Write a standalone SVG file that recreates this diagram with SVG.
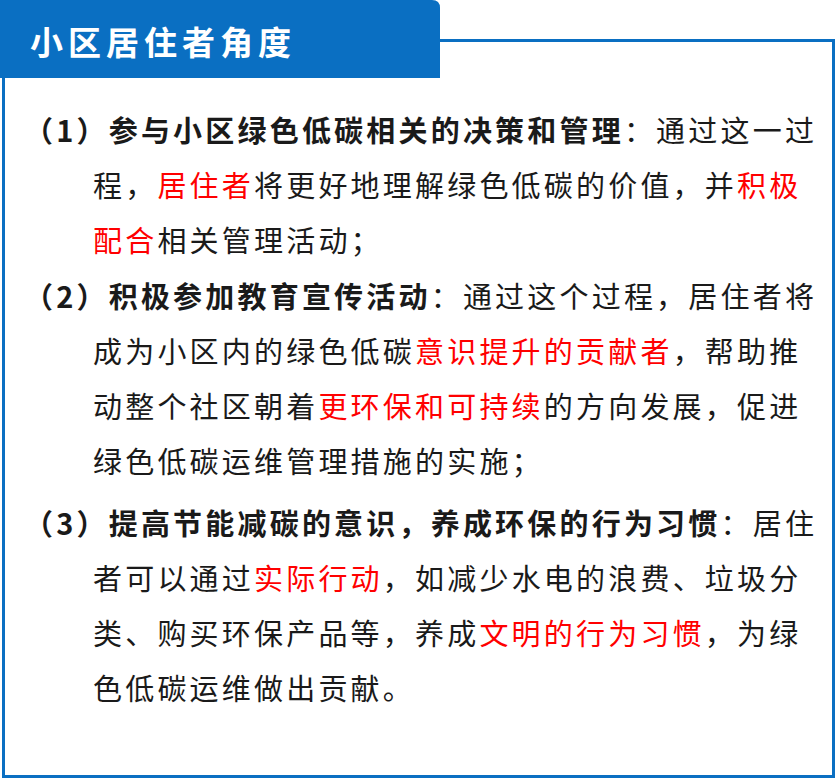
<svg xmlns="http://www.w3.org/2000/svg" width="837" height="780" viewBox="0 0 837 780">
<style>
.t{font-family:"Noto Sans CJK SC","Noto Sans",sans-serif;font-size:29px;letter-spacing:3.2px;fill:#1a1a1a}
.b{font-weight:bold}
.r{fill:#ff0000}
</style>
<rect width="837" height="780" fill="#fff"/>
<rect x="3.5" y="40.5" width="830" height="736" fill="#fff" stroke="#0a6fc2" stroke-width="3"/>
<g id="header">
<path d="M0 0 H432 Q440 0 440 8 V78 H0 Z" fill="#0a6fc2"/>
<text x="30" y="55" font-family="Noto Sans CJK SC,sans-serif" font-size="33" font-weight="bold" letter-spacing="5" fill="#fff">小区居住者角度</text>
</g>
<g id="body" class="t">
<text x="24" y="142"><tspan class="b">（1）参与小区绿色低碳相关的决策和管理</tspan>：通过这一过</text>
<text x="93" y="197">程，<tspan class="r">居住者</tspan>将更好地理解绿色低碳的价值，并<tspan class="r">积极</tspan></text>
<text x="93" y="252"><tspan class="r">配合</tspan>相关管理活动；</text>
<text x="24" y="308"><tspan class="b">（2）积极参加教育宣传活动</tspan>：通过这个过程，居住者将</text>
<text x="93" y="363">成为小区内的绿色低碳<tspan class="r">意识提升的贡献者</tspan>，帮助推</text>
<text x="93" y="418">动整个社区朝着<tspan class="r">更环保和可持续</tspan>的方向发展，促进</text>
<text x="93" y="473">绿色低碳运维管理措施的实施；</text>
<text x="24" y="535"><tspan class="b">（3）提高节能减碳的意识，养成环保的行为习惯</tspan>：居住</text>
<text x="93" y="590">者可以通过<tspan class="r">实际行动</tspan>，如减少水电的浪费、垃圾分</text>
<text x="93" y="645">类、购买环保产品等，养成<tspan class="r">文明的行为习惯</tspan>，为绿</text>
<text x="93" y="700">色低碳运维做出贡献。</text>
</g>
</svg>
